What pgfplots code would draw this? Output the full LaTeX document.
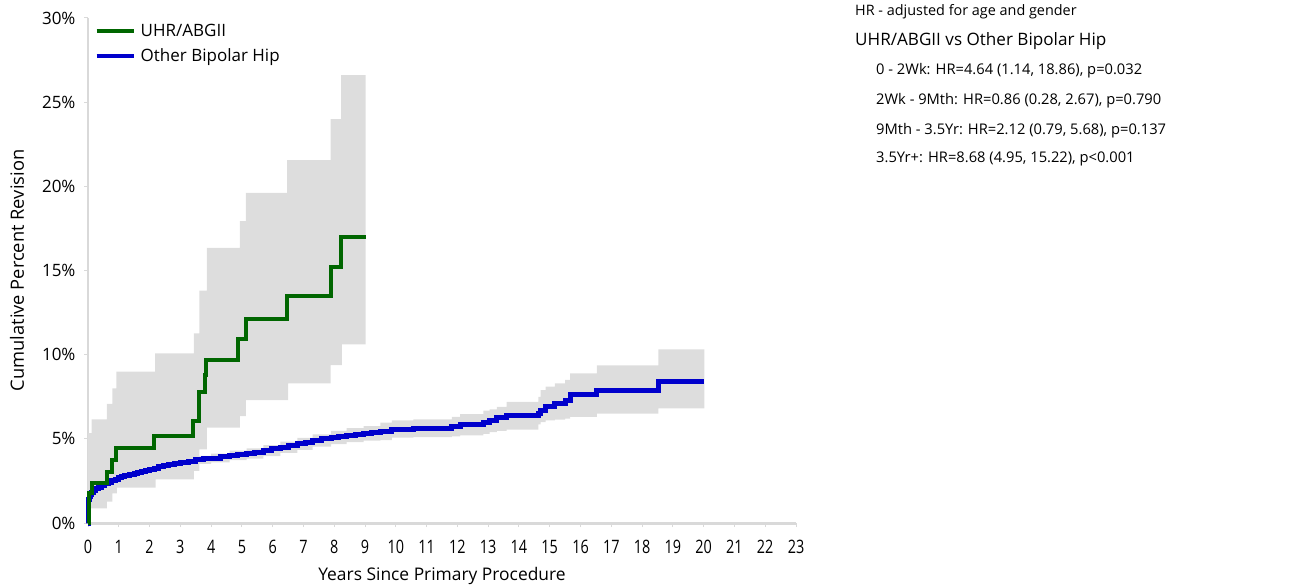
\documentclass[border=0pt]{standalone}
\usepackage{pgfplots}
\pgfplotsset{compat=1.18}
\usepgfplotslibrary{fillbetween}
\usepackage{fontspec}
\setmainfont{Open Sans}
\definecolor{kmgreen}{RGB}{0,102,0}
\definecolor{kmblue}{RGB}{0,0,204}
\definecolor{band}{RGB}{221,221,221}
\definecolor{axgray}{RGB}{217,217,217}
\begin{document}
\begin{tikzpicture}
\begin{axis}[
  at={(88pt,64pt)}, anchor=south west,
  scale only axis, width=708pt, height=505pt,
  xmin=0, xmax=23, ymin=0, ymax=30,
  clip=false,
  axis x line=bottom, axis y line=left,
  axis line style={-, axgray},
  x axis line style={line width=3pt},
  y axis line style={line width=2pt},
  xtick={0,1,...,23}, ytick={0,5,...,30},
  tick align=outside, major tick length=4pt,
  tick style={axgray, line width=1pt},
  /pgf/number format/assume math mode=true,
  xticklabel style={font=\fontsize{18.5}{20}\selectfont, yshift=-10pt},
  xticklabel={\scalebox{0.78}[1]{\pgfmathprintnumber{\tick}}},
  yticklabel style={font=\fontsize{17}{18}\selectfont, xshift=-5pt},
  yticklabel={\pgfmathprintnumber{\tick}\%},
  xlabel={Years Since Primary Procedure},
  ylabel={Cumulative Percent Revision},
  xlabel style={font=\fontsize{17.4}{20}\selectfont, at={(axis description cs:0.5,-0.105)}, anchor=center},
  ylabel style={font=\fontsize{18.3}{20}\selectfont, at={(axis description cs:-0.1003,0.5)}, anchor=center},
  legend style={at={(0.005,1.0)}, anchor=north west, draw=none, fill=none,
    font=\fontsize{17}{19}\selectfont, row sep=7pt, yshift=-2pt,
    nodes={inner xsep=5pt}},
  legend cell align=left,
  legend image code/.code={\draw[#1] (0pt,0pt) -- (37pt,0pt);},
]
% green band
\addplot[name path=gu, draw=none, const plot, forget plot] coordinates {
(0,5.34) (0.12,6.16) (0.61,7.07) (0.79,8.0) (0.92,8.99) (2.18,10.07) (3.44,11.26)
(3.62,13.8) (3.86,16.35) (4.93,17.93) (5.13,19.61) (6.47,21.56) (7.88,23.99) (8.22,26.6) (9.02,26.6)};
\addplot[name path=gl, draw=none, const plot, forget plot] coordinates {
(0,0.87) (0.61,1.27) (0.79,1.76) (0.94,2.1) (2.2,2.59) (3.44,3.1) (3.62,4.37)
(3.86,5.66) (4.93,6.35) (5.13,7.3) (6.5,8.3) (7.88,9.38) (8.25,10.61) (9.02,10.61)};
\addplot[band, draw=none, forget plot] fill between[of=gu and gl];
% blue band
\addplot[name path=bu, draw=none, const plot, forget plot] coordinates {
(0,0.1) (0.01,0.75) (0.02,1.25) (0.03,1.55) (0.05,1.75) (0.1,1.95) (0.18,2.1) (0.3,2.25)
(0.45,2.42) (0.65,2.6) (0.89,2.77) (1.2,2.97) (1.5,3.13) (1.75,3.27) (2.0,3.38) (2.45,3.61)
(3.0,3.83) (3.5,3.99) (4.0,4.12) (4.6,4.3) (5.15,4.43) (5.7,4.62) (6.25,4.83) (6.8,5.05)
(7.3,5.27) (7.9,5.47) (8.4,5.63) (8.95,5.76) (9.5,5.96) (9.87,6.1) (10.57,6.15) (11.82,6.31)
(12.09,6.47) (12.84,6.67) (13.05,6.75) (13.28,6.9) (13.6,7.2) (14.63,7.5) (14.7,7.9)
(14.87,8.1) (15.17,8.3) (15.5,8.5) (15.66,8.89) (16.53,9.36) (18.53,10.31) (20.02,10.31)};
\addplot[name path=bl, draw=none, const plot, forget plot] coordinates {
(0,0) (0.01,0.45) (0.02,0.95) (0.03,1.25) (0.05,1.45) (0.1,1.65) (0.18,1.82) (0.3,1.95)
(0.45,2.1) (0.65,2.3) (0.89,2.45) (1.2,2.63) (1.5,2.77) (1.75,2.89) (2.0,2.98) (2.45,3.19)
(3.0,3.37) (3.5,3.51) (4.0,3.6) (4.6,3.74) (5.15,3.83) (5.7,3.98) (6.25,4.17) (6.8,4.35)
(7.3,4.53) (7.9,4.69) (8.4,4.81) (8.95,4.9) (9.5,4.93) (9.87,5.07) (10.57,5.1) (11.82,5.14)
(12.09,5.2) (12.84,5.3) (13.05,5.4) (13.28,5.48) (13.6,5.55) (14.63,5.86) (14.7,6.0)
(14.87,6.1) (15.17,6.14) (15.5,6.2) (15.66,6.31) (16.53,6.5) (18.53,6.81) (20.02,6.81)};
\addplot[band, draw=none, forget plot] fill between[of=bu and bl];
% lines
\addplot[kmblue, line width=5pt, const plot, forget plot] coordinates {
(0,0) (0.01,0.6) (0.02,1.1) (0.03,1.4) (0.05,1.6) (0.08,1.72) (0.12,1.82) (0.18,1.94)
(0.25,2.03) (0.35,2.13) (0.45,2.24) (0.55,2.34) (0.65,2.43) (0.77,2.52) (0.89,2.61)
(1.0,2.68) (1.1,2.74) (1.2,2.8) (1.35,2.88) (1.5,2.95) (1.62,3.02) (1.75,3.08) (1.87,3.13)
(2.0,3.18) (2.15,3.26) (2.3,3.33) (2.45,3.4) (2.6,3.46) (2.8,3.53) (3.0,3.6) (3.25,3.68)
(3.5,3.75) (3.75,3.81) (4.0,3.86) (4.3,3.94) (4.6,4.02) (4.85,4.07) (5.15,4.13) (5.4,4.2)
(5.7,4.3) (5.95,4.4) (6.25,4.5) (6.5,4.59) (6.8,4.7) (7.05,4.8) (7.3,4.9) (7.6,5.0)
(7.9,5.08) (8.15,5.15) (8.4,5.22) (8.7,5.28) (8.95,5.33) (9.2,5.37) (9.5,5.42)
(9.87,5.56) (10.57,5.64) (11.82,5.72)
(12.09,5.86) (12.84,5.98) (13.05,6.1) (13.28,6.25) (13.6,6.37) (14.63,6.5) (14.7,6.71)
(14.87,6.91) (15.17,7.11) (15.5,7.3) (15.66,7.64) (16.53,7.86) (18.53,8.43) (20.02,8.43)};
\addplot[kmgreen, line width=4pt, const plot, forget plot] coordinates {
(0,0) (0.03,1.76) (0.12,2.39) (0.61,3.05) (0.79,3.74) (0.9,4.43) (2.14,5.19) (3.42,6.06)
(3.6,6.9) (3.62,7.8) (3.8,8.8) (3.83,9.7) (4.88,10.91) (5.13,12.11) (6.47,13.5)
(7.88,15.18) (8.22,17.0) (9.02,17.0)};
\addlegendimage{kmgreen, line width=4pt}
\addlegendentry{UHR/ABGII}
\addlegendimage{kmblue, line width=4pt}
\addlegendentry{Other Bipolar Hip}
\end{axis}
\node[anchor=west, inner sep=0, font=\fontsize{14.4}{16}\selectfont] at (855pt,575pt) {HR - adjusted for age and gender};
\node[anchor=west, inner sep=0, font=\fontsize{17.1}{20}\selectfont] at (855pt,546pt) {UHR/ABGII vs Other Bipolar Hip};
\node[anchor=west, inner sep=0, font=\fontsize{14.7}{16}\selectfont] at (876pt,516pt) {0 - 2Wk: HR=4.64 (1.14, 18.86), p=0.032};
\node[anchor=west, inner sep=0, font=\fontsize{14.7}{16}\selectfont] at (876pt,486pt) {2Wk - 9Mth: HR=0.86 (0.28, 2.67), p=0.790};
\node[anchor=west, inner sep=0, font=\fontsize{14.7}{16}\selectfont] at (876pt,456pt) {9Mth - 3.5Yr: HR=2.12 (0.79, 5.68), p=0.137};
\node[anchor=west, inner sep=0, font=\fontsize{14.7}{16}\selectfont] at (876pt,428pt) {3.5Yr+: HR=8.68 (4.95, 15.22), p<0.001};
\pgfresetboundingbox
\path[use as bounding box] (0pt,0pt) rectangle (1290pt,587pt);
\end{tikzpicture}
\end{document}
